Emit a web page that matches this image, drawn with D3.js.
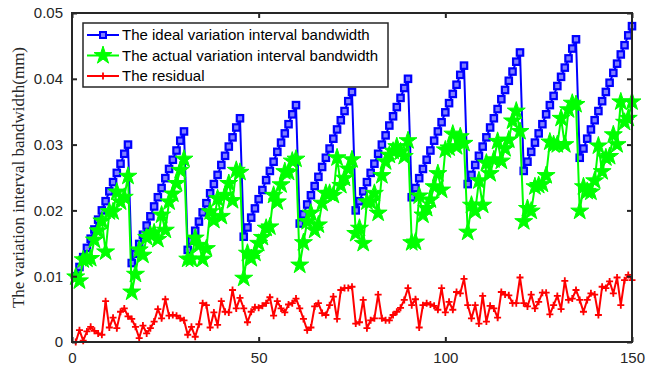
<!DOCTYPE html>
<html><head><meta charset="utf-8">
<script src="https://cdn.jsdelivr.net/npm/d3@7"></script>
<style>body{margin:0;background:#fff}svg{display:block}</style>
</head><body>
<script>
const xTicks = [0, 50, 100, 150];
const yTicks = [0, 0.01, 0.02, 0.03, 0.04, 0.05];
const seriesNames = ["The ideal variation interval bandwidth", "The actual variation interval bandwidth", "The residual"];
const ideal = [
0.0100,0.0114,0.0129,0.0143,0.0157,0.0171,0.0186,0.0200,0.0214,0.0229,0.0243,0.0257,0.0271,0.0286,0.0300,
0.0120,0.0134,0.0149,0.0163,0.0177,0.0191,0.0206,0.0220,0.0234,0.0249,0.0263,0.0277,0.0291,0.0306,0.0320,
0.0140,0.0154,0.0169,0.0183,0.0197,0.0211,0.0226,0.0240,0.0254,0.0269,0.0283,0.0297,0.0311,0.0326,0.0340,
0.0160,0.0174,0.0189,0.0203,0.0217,0.0231,0.0246,0.0260,0.0274,0.0289,0.0303,0.0317,0.0331,0.0346,0.0360,
0.0180,0.0194,0.0209,0.0223,0.0237,0.0251,0.0266,0.0280,0.0294,0.0309,0.0323,0.0337,0.0351,0.0366,0.0380,
0.0200,0.0214,0.0229,0.0243,0.0257,0.0271,0.0286,0.0300,0.0314,0.0329,0.0343,0.0357,0.0371,0.0386,0.0400,
0.0220,0.0234,0.0249,0.0263,0.0277,0.0291,0.0306,0.0320,0.0334,0.0349,0.0363,0.0377,0.0391,0.0406,0.0420,
0.0240,0.0254,0.0269,0.0283,0.0297,0.0311,0.0326,0.0340,0.0354,0.0369,0.0383,0.0397,0.0411,0.0426,0.0440,
0.0260,0.0274,0.0289,0.0303,0.0317,0.0331,0.0346,0.0360,0.0374,0.0389,0.0403,0.0417,0.0431,0.0446,0.0460,
0.0280,0.0294,0.0309,0.0323,0.0337,0.0351,0.0366,0.0380,0.0394,0.0409,0.0423,0.0437,0.0451,0.0466,0.0480];
const actual = [
0.0099,0.0093,0.0125,0.0126,0.0127,0.0155,0.0169,0.0184,0.0137,0.0198,
0.0198,0.0228,0.0213,0.0220,0.0252,0.0076,0.0103,0.0140,0.0132,0.0159,
0.0163,0.0166,0.0156,0.0193,0.0170,0.0213,0.0225,0.0241,0.0261,0.0278,
0.0126,0.0126,0.0158,0.0147,0.0126,0.0142,0.0198,0.0185,0.0218,0.0191,
0.0223,0.0241,0.0215,0.0261,0.0258,0.0097,0.0135,0.0127,0.0135,0.0150,
0.0159,0.0173,0.0175,0.0223,0.0213,0.0239,0.0259,0.0258,0.0275,0.0278,
0.0117,0.0151,0.0183,0.0196,0.0170,0.0178,0.0211,0.0226,0.0226,0.0223,
0.0280,0.0238,0.0249,0.0263,0.0277,0.0165,0.0173,0.0150,0.0213,0.0213,
0.0226,0.0196,0.0253,0.0274,0.0284,0.0290,0.0297,0.0289,0.0282,0.0306,
0.0151,0.0152,0.0222,0.0193,0.0203,0.0216,0.0236,0.0256,0.0231,0.0292,
0.0295,0.0316,0.0297,0.0312,0.0302,0.0167,0.0208,0.0199,0.0245,0.0208,
0.0272,0.0256,0.0277,0.0305,0.0275,0.0294,0.0307,0.0336,0.0351,0.0320,
0.0183,0.0203,0.0199,0.0236,0.0238,0.0240,0.0253,0.0304,0.0300,0.0300,
0.0340,0.0300,0.0353,0.0363,0.0361,0.0199,0.0236,0.0229,0.0228,0.0245,
0.0298,0.0259,0.0280,0.0282,0.0315,0.0300,0.0365,0.0334,0.0340,0.0365];
const residual = [
0.0000,0.0018,0.0002,0.0016,0.0023,0.0017,0.0013,0.0011,0.0062,0.0022,
0.0037,0.0021,0.0046,0.0051,0.0039,0.0035,0.0023,0.0006,0.0025,0.0013,
0.0021,0.0031,0.0050,0.0036,0.0065,0.0040,0.0041,0.0040,0.0036,0.0033,
0.0011,0.0023,0.0008,0.0027,0.0059,0.0056,0.0022,0.0045,0.0026,0.0062,
0.0046,0.0045,0.0079,0.0051,0.0067,0.0051,0.0030,0.0046,0.0053,0.0052,
0.0055,0.0059,0.0068,0.0040,0.0062,0.0051,0.0045,0.0057,0.0059,0.0066,
0.0051,0.0035,0.0018,0.0022,0.0054,0.0059,0.0044,0.0041,0.0056,0.0069,
0.0035,0.0079,0.0082,0.0082,0.0084,0.0028,0.0030,0.0064,0.0021,0.0033,
0.0036,0.0072,0.0036,0.0033,0.0033,0.0041,0.0046,0.0052,0.0064,0.0082,
0.0056,0.0065,0.0022,0.0056,0.0059,0.0057,0.0055,0.0049,0.0082,0.0045,
0.0061,0.0049,0.0076,0.0074,0.0096,0.0056,0.0036,0.0056,0.0028,0.0070,
0.0031,0.0055,0.0051,0.0037,0.0076,0.0072,0.0071,0.0059,0.0059,0.0098,
0.0059,0.0054,0.0072,0.0051,0.0061,0.0075,0.0075,0.0042,0.0056,0.0070,
0.0050,0.0093,0.0064,0.0066,0.0079,0.0064,0.0046,0.0064,0.0074,0.0072,
0.0041,0.0084,0.0082,0.0092,0.0074,0.0098,0.0056,0.0094,0.0102,0.0094];

const W = 656, H = 373;
const m = {left: 72, top: 13, right: 632, bottom: 342};
const svg = d3.select("body").append("svg").attr("width", W).attr("height", H);
const x = d3.scaleLinear().domain([0, 150]).range([m.left, m.right]);
const y = d3.scaleLinear().domain([0, 0.05]).range([m.bottom, m.top]);
const axisColor = "#262626";
const tickFont = "'Liberation Sans', Arial, sans-serif";

const line = d3.line().x((d, i) => x(i + 1)).y(d => y(d));
const g = svg.append("g");

// ideal (blue squares)
g.append("path").datum(ideal).attr("d", line).attr("fill", "none").attr("stroke", "#0000ff").attr("stroke-width", 2);
g.selectAll(".sq").data(ideal).enter().append("rect")
  .attr("x", (d, i) => x(i + 1) - 3.2).attr("y", d => y(d) - 3.2).attr("width", 6.4).attr("height", 6.4)
  .attr("fill", "#8080ff").attr("stroke", "#0000ff").attr("stroke-width", 2.2);

// actual (green stars)
const star = d3.symbol().type(d3.symbolStar).size(100);
g.append("path").datum(actual).attr("d", line).attr("fill", "none").attr("stroke", "#00ff00").attr("stroke-width", 2);
g.selectAll(".st").data(actual).enter().append("path")
  .attr("d", star).attr("transform", (d, i) => `translate(${x(i + 1)},${y(d)})`)
  .attr("fill", "#00ff00").attr("stroke", "#00ff00").attr("stroke-width", 1);

// residual (red plus)
g.append("path").datum(residual).attr("d", line).attr("fill", "none").attr("stroke", "#ff0000").attr("stroke-width", 2);
g.selectAll(".pl").data(residual).enter().append("path")
  .attr("d", (d, i) => { const cx = x(i + 1), cy = y(d); return `M${cx-3.5},${cy}H${cx+3.5}M${cx},${cy-3.5}V${cy+3.5}`; })
  .attr("stroke", "#ff0000").attr("stroke-width", 1.8);

// axes box
const ax = svg.append("g");
ax.append("rect").attr("x", m.left).attr("y", m.top).attr("width", m.right - m.left).attr("height", m.bottom - m.top)
  .attr("fill", "none").attr("stroke", axisColor).attr("stroke-width", 2);
const xAxis = d3.axisBottom(x).tickValues(xTicks).tickSize(-5).tickPadding(10).tickFormat(d3.format("d"));
ax.append("g").attr("transform", `translate(0,${m.bottom})`).call(xAxis);
const yAxis = d3.axisLeft(y).tickValues(yTicks).tickSize(-5).tickPadding(9).tickFormat(d => d === 0 ? "0" : d3.format(".2f")(d));
ax.append("g").attr("transform", `translate(${m.left},0)`).call(yAxis);
ax.append("g").attr("transform", `translate(0,${m.top})`).call(d3.axisTop(x).tickValues(xTicks).tickSize(-5).tickFormat(""));
ax.append("g").attr("transform", `translate(${m.right},0)`).call(d3.axisRight(y).tickValues(yTicks).tickSize(-5).tickFormat(""));
ax.selectAll(".domain").remove();
ax.selectAll(".tick line").attr("stroke", axisColor).attr("stroke-width", 2);
ax.selectAll(".tick text").attr("fill", "#262626").style("font-family", tickFont).style("font-size", "15px");

// y label
svg.append("text").attr("transform", `translate(24,${(m.top + m.bottom) / 2}) rotate(-90)`)
  .attr("text-anchor", "middle").style("font-family", "'Liberation Serif', 'Times New Roman', serif")
  .style("font-size", "17px").attr("fill", "#262626").text("The variation interval bandwidth(mm)");

// legend
const lg = svg.append("g").attr("transform", "translate(83,23)");
lg.append("rect").attr("width", 305).attr("height", 64).attr("fill", "#fff").attr("stroke", axisColor).attr("stroke-width", 1.5);
const cols = ["#0000ff", "#00ff00", "#ff0000"];
seriesNames.forEach((name, k) => {
  const yy = 12 + k * 20.5;
  lg.append("line").attr("x1", 4).attr("x2", 36).attr("y1", yy).attr("y2", yy).attr("stroke", cols[k]).attr("stroke-width", 2);
  if (k === 0) lg.append("rect").attr("x", 17).attr("y", yy - 3).attr("width", 6).attr("height", 6).attr("fill", "#8080ff").attr("stroke", cols[k]).attr("stroke-width", 2);
  if (k === 1) lg.append("path").attr("d", star).attr("transform", `translate(20,${yy})`).attr("fill", cols[k]).attr("stroke", cols[k]);
  if (k === 2) lg.append("path").attr("d", `M16.5,${yy}H23.5M20,${yy-3.5}V${yy+3.5}`).attr("stroke", cols[k]).attr("stroke-width", 1.8);
  lg.append("text").attr("x", 39).attr("y", yy + 5).style("font-family", tickFont).style("font-size", "15px").attr("fill", "#000").text(name);
});
</script>
</body></html>
